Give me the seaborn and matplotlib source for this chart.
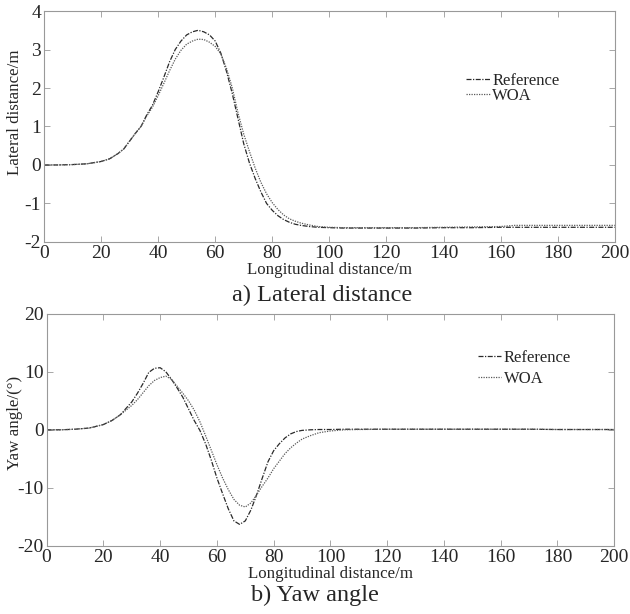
import numpy as np
import pandas as pd
import matplotlib
matplotlib.use("Agg")
import matplotlib.pyplot as plt
import seaborn as sns

# longitudinal distance (m)
x_dist = [0, 5, 10, 15, 20, 23, 26, 28, 30, 32, 34, 36, 38, 40, 42, 44, 46, 48, 50,
          52, 54, 56, 58, 60, 62, 64, 66, 68, 70, 72, 74, 76, 78, 80, 82, 84, 86, 88,
          90, 93, 96, 100, 105, 110, 120, 130, 140, 150, 160, 165, 170, 180, 190, 200]

# lateral distance (m)
lat_ref = [0, 0, 0.01, 0.03, 0.09, 0.16, 0.3, 0.42, 0.62, 0.82, 1.0, 1.3, 1.55, 1.9,
           2.28, 2.68, 3.0, 3.22, 3.38, 3.46, 3.5, 3.46, 3.38, 3.22, 2.9, 2.42, 1.85,
           1.2, 0.55, 0.05, -0.35, -0.7, -1.0, -1.18, -1.32, -1.42, -1.49, -1.54,
           -1.57, -1.6, -1.62, -1.63, -1.64, -1.64, -1.64, -1.64, -1.63, -1.63, -1.62,
           -1.62, -1.62, -1.62, -1.62, -1.62]
lat_woa = [0, 0, 0.01, 0.03, 0.09, 0.16, 0.3, 0.42, 0.62, 0.82, 1.0, 1.27, 1.5, 1.8,
           2.12, 2.45, 2.75, 2.98, 3.14, 3.22, 3.27, 3.26, 3.19, 3.08, 2.88, 2.5, 2.0,
           1.35, 0.8, 0.35, -0.08, -0.45, -0.75, -0.98, -1.16, -1.3, -1.4, -1.46,
           -1.51, -1.56, -1.6, -1.62, -1.63, -1.63, -1.63, -1.63, -1.62, -1.61, -1.6,
           -1.57, -1.57, -1.57, -1.57, -1.57]

# yaw angle (deg)
yaw_ref = [0, 0, 0.1, 0.3, 0.9, 1.6, 2.6, 3.7, 4.8, 6.3, 8.0, 9.9, 10.6, 10.7, 10.0,
           8.7, 7.2, 5.6, 3.6, 1.6, -0.1, -2.4, -5.2, -8.3, -11.0, -13.6, -15.7,
           -16.3, -15.7, -13.8, -11.2, -8.3, -5.5, -3.6, -2.4, -1.4, -0.7, -0.3,
           -0.1, 0, 0.05, 0.05, 0.1, 0.1, 0.1, 0.1, 0.1, 0.1, 0.1, 0.1, 0.1, 0.05,
           0.05, 0.05]
yaw_woa = [0, 0, 0.1, 0.3, 0.9, 1.6, 2.6, 3.4, 4.2, 5.2, 6.4, 7.6, 8.5, 9.0, 9.25,
           8.7, 7.5, 6.3, 5.0, 3.4, 1.4, -1.0, -3.5, -6.0, -8.3, -10.3, -12.0,
           -13.0, -13.3, -12.6, -11.2, -9.7, -8.3, -6.7, -5.4, -4.1, -3.1, -2.3,
           -1.6, -1.0, -0.5, -0.2, 0, 0.05, 0.1, 0.1, 0.1, 0.1, 0.1, 0.1, 0.1, 0.05,
           0.05, 0.05]

methods = ["Reference", "WOA"]

sns.set_style("ticks")
plt.rcParams["font.family"] = ["Liberation Serif", "DejaVu Serif"]
plt.rcParams["axes.unicode_minus"] = False

n = len(x_dist)
lat_df = pd.DataFrame({"x": x_dist * 2, "y": lat_ref + lat_woa,
                       "Method": [methods[0]] * n + [methods[1]] * n})
yaw_df = pd.DataFrame({"x": x_dist * 2, "y": yaw_ref + yaw_woa,
                       "Method": [methods[0]] * n + [methods[1]] * n})

palette = {"Reference": "#2a2a2a", "WOA": "#5a5a5a"}
dashes = {"Reference": (4, 1.2, 1, 1.2), "WOA": (1, 1)}

fig = plt.figure(figsize=(6.3, 6.14), dpi=100)
ax1 = fig.add_axes([0.0698, 0.606, 0.906, 0.376])
ax2 = fig.add_axes([0.074, 0.111, 0.901, 0.378])


def style_axes(ax, ylim, yticks, ylabel, label_xy):
    ax.set_xlim(0, 200)
    ax.set_ylim(*ylim)
    ax.set_xticks(range(0, 201, 20))
    ax.set_yticks(yticks)
    ax.tick_params(direction="in", top=True, right=True, length=4, width=0.6,
                   color="#999999", labelsize=14, pad=2)
    for s in ax.spines.values():
        s.set_color("#999999")
        s.set_linewidth(0.8)
    ax.set_xlabel("Longitudinal distance/m", fontsize=12.2, labelpad=0.5)
    ax.set_ylabel(ylabel, fontsize=12.2)
    ax.yaxis.set_label_coords(*label_xy)
    ax.yaxis.label.set_verticalalignment("center")


sns.lineplot(data=lat_df, x="x", y="y", hue="Method", style="Method",
             palette=palette, dashes=dashes, linewidth=0.9, ax=ax1)
style_axes(ax1, (-2, 4), range(-2, 5), "Lateral distance/m", (-0.051, 0.563))
ax1.legend(loc="upper left", bbox_to_anchor=(0.740, 0.732), frameon=False,
           fontsize=12, handlelength=1.4, handletextpad=0.15, labelspacing=-0.08,
           borderpad=0, borderaxespad=0)

sns.lineplot(data=yaw_df, x="x", y="y", hue="Method", style="Method",
             palette=palette, dashes=dashes, linewidth=0.9, ax=ax2)
style_axes(ax2, (-20, 20), range(-20, 21, 10), "Yaw angle/(°)", (-0.056, 0.530))
ax2.legend(loc="upper left", bbox_to_anchor=(0.760, 0.845), frameon=False,
           fontsize=12, handlelength=1.4, handletextpad=0.15, labelspacing=0.33,
           borderpad=0, borderaxespad=0)

fig.text(0.512, 0.510, "a) Lateral distance", fontsize=17.5, ha="center", va="baseline")
fig.text(0.500, 0.021, "b) Yaw angle", fontsize=17.5, ha="center", va="baseline")

fig.savefig("out.png", dpi=100)
